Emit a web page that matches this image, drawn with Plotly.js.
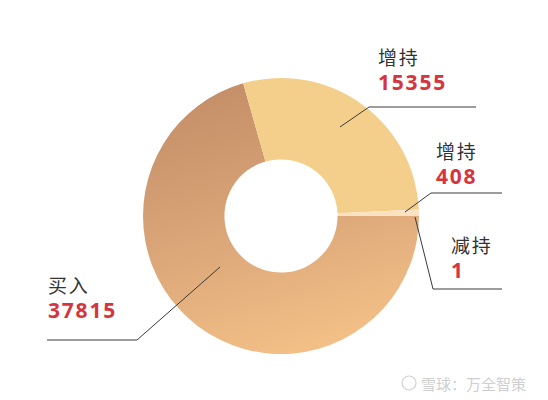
<!DOCTYPE html>
<html>
<head>
<meta charset="utf-8">
<script src="https://cdn.plot.ly/plotly-3.0.1.min.js"></script>
<style>
  body { margin: 0; background: #fff; }
  #chart { width: 548px; height: 400px; }
</style>
</head>
<body>
<div id="chart"></div>
<script>
// chart data
var names = ['买入', '增持', '增持', '减持'];
var values = [37815, 15355, 408, 1];
var colors = ['#e4ad7a', '#f3cf8b', '#f9e1c2', '#f9e1c2'];

var W = 548, H = 400;
function px(x) { return x / W; }
function py(y) { return 1 - y / H; }

// label spots (pixels, middle of the two-line block) and leader lines, one per slice
var labelPos = [[46, 297], [376, 69], [434, 164], [449, 257]];
var leaders = [
  [[220, 267], [137, 340], [47, 340]],
  [[340, 127], [369, 107], [476, 107]],
  [[405, 212], [431, 193], [502, 193]],
  [[415, 217], [433, 289], [502, 289]]
];

var trace = {
  type: 'pie',
  values: values,
  labels: names.map(function (n, i) { return n + i; }),
  sort: false,
  direction: 'clockwise',
  rotation: 90,
  hole: 0.41,
  textinfo: 'none',
  hoverinfo: 'none',
  showlegend: false,
  marker: { colors: colors, line: { width: 0 } },
  domain: { x: [px(281 - 138), px(281 + 138)], y: [py(216 + 138), py(216 - 138)] }
};

var annotations = [];
var shapes = [];
for (var i = 0; i < names.length; i++) {
  var p = labelPos[i];
  annotations.push({
    xref: 'paper', yref: 'paper', x: px(p[0]), y: py(p[1]),
    xanchor: 'left', yanchor: 'middle', align: 'left', showarrow: false,
    text: names[i] + '<br><span style="color:#d63540;font-size:21px;font-family:Noto Sans"><b>' +
          values[i] + '</b></span>',
    font: { family: 'Noto Sans CJK SC', size: 19, color: '#333333' }
  });
  var l = leaders[i];
  var d = 'M' + px(l[0][0]) + ',' + py(l[0][1]) +
          ' L' + px(l[1][0]) + ',' + py(l[1][1]) +
          ' L' + px(l[2][0]) + ',' + py(l[2][1]);
  shapes.push({ type: 'path', xref: 'paper', yref: 'paper', path: d,
    line: { color: '#3a3a3a', width: 1 } });
}

// watermark
shapes.push({ type: 'circle', xref: 'paper', yref: 'paper',
  x0: px(402), x1: px(416), y0: py(390), y1: py(376),
  line: { color: '#d0d0d0', width: 1.2 } });
annotations.push({
  xref: 'paper', yref: 'paper', x: px(419), y: py(383),
  xanchor: 'left', yanchor: 'middle', showarrow: false,
  text: '雪球：万全智策',
  font: { family: 'Noto Sans CJK SC', size: 15, color: '#cfcfcf' }
});

var layout = {
  width: W, height: H,
  margin: { l: 0, r: 0, t: 0, b: 0 },
  paper_bgcolor: '#ffffff',
  annotations: annotations,
  shapes: shapes
};

Plotly.newPlot('chart', [trace], layout, { staticPlot: true, displayModeBar: false }).then(function (gd) {
  // give the big slice its brown-to-orange shading
  var svg = gd.querySelector('.main-svg');
  var ns = 'http://www.w3.org/2000/svg';
  var defs = svg.querySelector('defs') || svg.insertBefore(document.createElementNS(ns, 'defs'), svg.firstChild);
  var grad = document.createElementNS(ns, 'linearGradient');
  grad.setAttribute('id', 'buyGrad');
  grad.setAttribute('x1', '0.2'); grad.setAttribute('y1', '0');
  grad.setAttribute('x2', '0.5'); grad.setAttribute('y2', '1');
  [['0', '#c38d67'], ['0.5', '#d9a477'], ['1', '#f2bf87']].forEach(function (s) {
    var st = document.createElementNS(ns, 'stop');
    st.setAttribute('offset', s[0]);
    st.setAttribute('stop-color', s[1]);
    grad.appendChild(st);
  });
  defs.appendChild(grad);
  var first = gd.querySelector('.slice path.surface');
  if (first) first.style.fill = 'url(#buyGrad)';

  // labels in the reference are spaced out a little
  gd.querySelectorAll('.annotation-text').forEach(function (t) {
    if (t.textContent.indexOf('雪球') < 0) t.style.letterSpacing = '1.8px';
  });
});
</script>
</body>
</html>
